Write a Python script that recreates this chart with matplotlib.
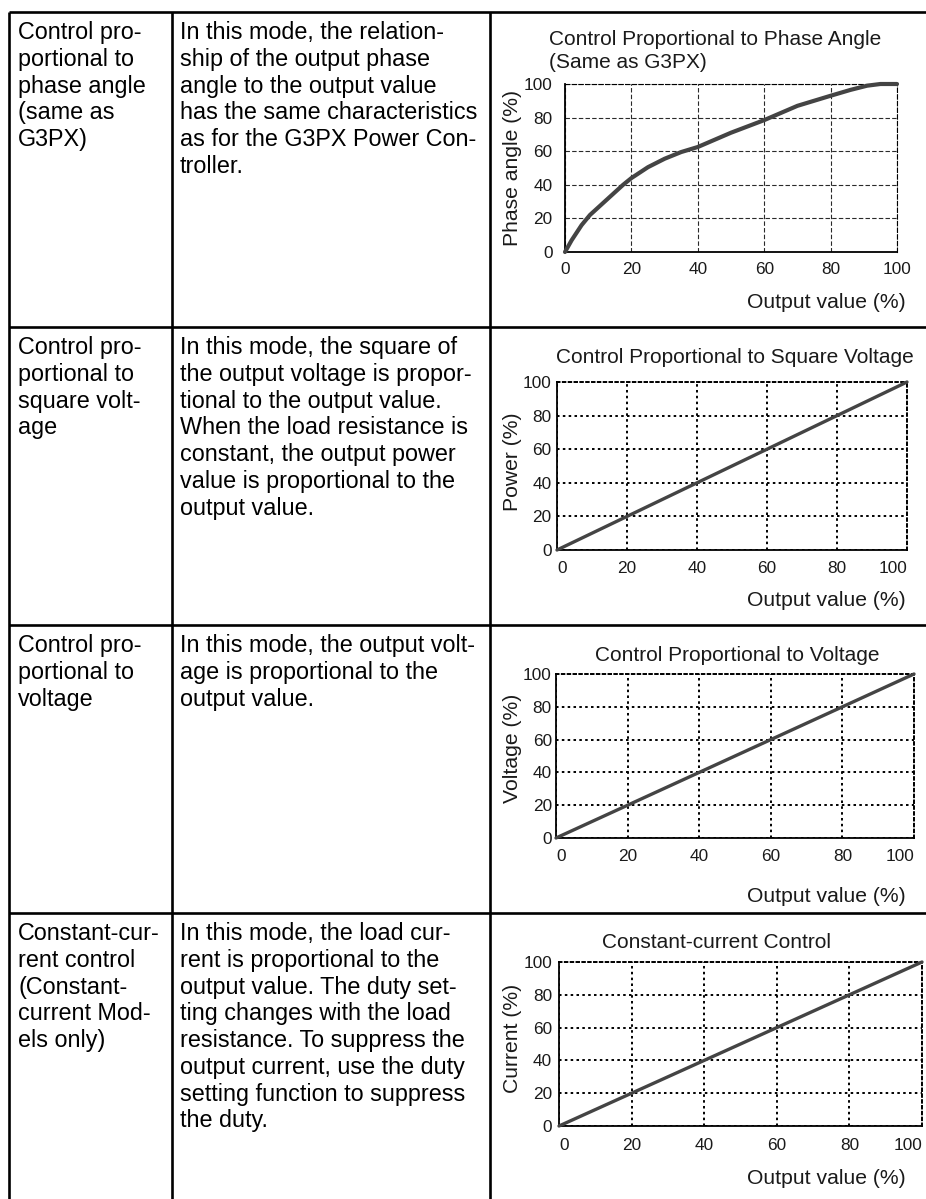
import matplotlib
matplotlib.use('Agg')
import matplotlib.pyplot as plt

plt.rcParams['font.family'] = ['Liberation Sans', 'DejaVu Sans']

W, H, DPI = 926, 1199, 100
###############################################################################
# Table text
###############################################################################
modes = [
    'Control pro-\nportional to\nphase angle\n(same as\nG3PX)',
    'Control pro-\nportional to\nsquare volt-\nage',
    'Control pro-\nportional to\nvoltage',
    'Constant-cur-\nrent control\n(Constant-\ncurrent Mod-\nels only)',
]
descs = [
    'In this mode, the relation-\nship of the output phase\nangle to the output value\n'
    'has the same characteristics\nas for the G3PX Power Con-\ntroller.',
    'In this mode, the square of\nthe output voltage is propor-\ntional to the output value.\n'
    'When the load resistance is\nconstant, the output power\nvalue is proportional to the\n'
    'output value.',
    'In this mode, the output volt-\nage is proportional to the\noutput value.',
    'In this mode, the load cur-\nrent is proportional to the\noutput value. The duty set-\n'
    'ting changes with the load\nresistance. To suppress the\noutput current, use the duty\n'
    'setting function to suppress\nthe duty.',
]
###############################################################################
# Chart data
###############################################################################
titles = [
    'Control Proportional to Phase Angle\n(Same as G3PX)',
    'Control Proportional to Square Voltage',
    'Control Proportional to Voltage',
    'Constant-current Control',
]
ylabels = ['Phase angle (%)', 'Power (%)', 'Voltage (%)', 'Current (%)']
xlabel = 'Output value (%)'
ticks = [0, 20, 40, 60, 80, 100]
phaseX = [0, 2, 5, 7.5, 12.5, 17.5, 20, 25, 30, 35, 40, 50, 60, 70, 80, 86, 91, 95, 100]
phaseY = [0, 7, 16, 22, 31, 40, 44, 50.5, 55.5, 59.5, 62.5, 71, 78.5, 87, 93, 96.5, 99, 100, 100]
squareX = [0, 100]
squareY = [0, 100]
voltX = [0, 100]
voltY = [0, 100]
currX = [0, 100]
currY = [0, 100]
series = [(phaseX, phaseY), (squareX, squareY), (voltX, voltY), (currX, currY)]
###############################################################################
# Layout (pixels)
###############################################################################
rowTops = [12, 327, 625, 913]
colX = [9, 172, 490]
boxes = [  # left, top, right, bottom
    (565, 84, 897, 252), (557, 382, 907, 550),
    (556, 674, 914, 838), (559, 962, 922, 1126)
]
ylabY = [168, 462, 748, 1038]
xlabY = [303, 600, 896, 1178]
titlePos = [(549, 30, 'left'), (735, 348, 'center'), (737, 646, 'center'), (717, 933, 'center')]
yPad = [9, 4, 3, 5]
xPad = [7, 8, 8, 9]
###############################################################################
# Figure
###############################################################################
fig = plt.figure(figsize=(W/DPI, H/DPI), dpi=DPI)
bg = fig.add_axes([0, 0, 1, 1])
bg.set_xlim(0, W)
bg.set_ylim(H, 0)
bg.axis('off')
# Table grid ------------------------------------------------------------------
bg.vlines(colX, rowTops[0], H, color='k', lw=1.9)
bg.hlines(rowTops, colX[0], W, color='k', lw=1.9)
for (top, m, d) in zip(rowTops, modes, descs):
    bg.text(colX[0]+9, top+9, m, va='top', ha='left', fontsize=16.8, linespacing=1.21)
    bg.text(colX[1]+8, top+9, d, va='top', ha='left', fontsize=16.8, linespacing=1.21)
# Charts ----------------------------------------------------------------------
for i in range(4):
    (l, t, r, b) = boxes[i]
    ax = fig.add_axes([l/W, 1-b/H, (r-l)/W, (b-t)/H])
    ax.set_xlim(0, 100)
    ax.set_ylim(0, 100)
    ax.set_xticks(ticks)
    ax.set_yticks(ticks)
    ax.tick_params(length=0, labelsize=12.4, colors='#1a1a1a')
    ax.tick_params(axis='y', pad=yPad[i])
    ax.tick_params(axis='x', pad=xPad[i])
    if i == 0:
        ls = (0, (4, 2))
        ax.grid(True, ls=ls, lw=0.8, color='#2a2a2a')
        lw = 3.0
    else:
        ls = (0, (1.3, 1.7))
        ax.grid(True, ls=ls, lw=1.4, color='k')
        lw = 2.4
        labs = ax.get_xticklabels()
        labs[0].set_ha('left')
        labs[-1].set_ha('right')
    for s in ('top', 'right'):
        ax.spines[s].set_linestyle(ls)
        ax.spines[s].set_linewidth(0.8 if i == 0 else 1.4)
    for s in ('left', 'bottom'):
        ax.spines[s].set_linewidth(1.3)
    ax.set_axisbelow(True)
    (xs, ys) = series[i]
    ax.plot(xs, ys, color='#444444', lw=lw, clip_on=False, zorder=5,
            solid_capstyle='round', solid_joinstyle='round')
    # labels
    bg.text(513, ylabY[i], ylabels[i], rotation=90, ha='center', va='center', fontsize=15.2, color='#1a1a1a')
    bg.text(906, xlabY[i], xlabel, ha='right', va='center', fontsize=15.2, color='#1a1a1a')
    (tx, ty, ha) = titlePos[i]
    bg.text(tx, ty, titles[i], ha=ha, va='top', fontsize=15.0, color='#1a1a1a', linespacing=1.3)

fig.savefig('out.png', dpi=DPI)
